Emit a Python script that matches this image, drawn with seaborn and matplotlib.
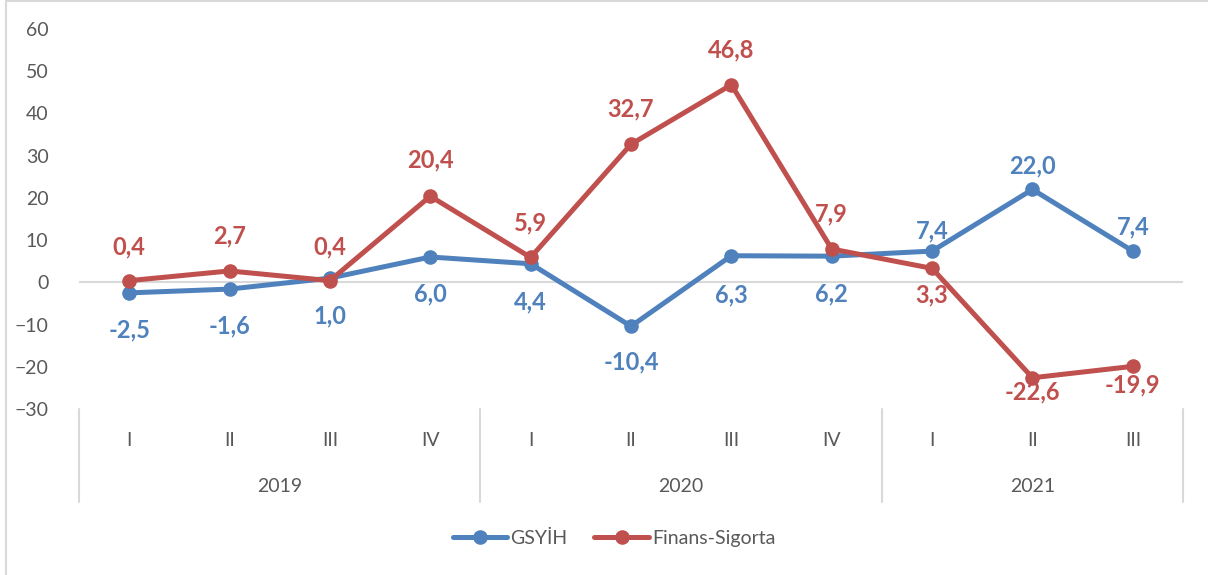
import pandas as pd
import numpy as np
import matplotlib.pyplot as plt
import seaborn as sns
from matplotlib.lines import Line2D
from matplotlib.patches import Rectangle

# data
quarters = ['I', 'II', 'III', 'IV', 'I', 'II', 'III', 'IV', 'I', 'II', 'III']
years = ['2019', '2020', '2021']
year_sizes = [4, 4, 3]
gsyih = [-2.5, -1.6, 1.0, 6.0, 4.4, -10.4, 6.3, 6.2, 7.4, 22.0, 7.4]
finans = [0.4, 2.7, 0.4, 20.4, 5.9, 32.7, 46.8, 7.9, 3.3, -22.6, -19.9]
series_names = ['GSYİH', 'Finans-Sigorta']

blue = '#4F81BD'
red = '#C0504D'
grey_txt = '#595959'
grey_line = '#D9D9D9'

sns.set_style('white')
plt.rcParams['font.family'] = ['Lato', 'DejaVu Sans']

df = pd.DataFrame({
    'idx': list(range(len(quarters))) * 2,
    'value': gsyih + finans,
    'seri': [series_names[0]] * len(gsyih) + [series_names[1]] * len(finans),
})

fig = plt.figure(figsize=(12.08, 5.75), dpi=100)
ax = fig.add_axes([79 / 1208, 1 - 409 / 575, 1104 / 1208, 380 / 575])

ax.axhline(0, color=grey_line, lw=1.5, zorder=1)
sns.lineplot(data=df, x='idx', y='value', hue='seri', hue_order=series_names,
             palette=[blue, red], marker='o', markersize=10.5, markeredgewidth=0,
             linewidth=3.6, legend=False, ax=ax, zorder=3)

# data labels (pixel offsets, negative = below)
blue_dy = [-37, -37, -38, -37, -38, -36, -39, -38, 20, 24, 24]
red_dy = [34, 35, 34, 36, 35, 35, 35, 35, -27, -14, -19]
for vals, dys, col in [(gsyih, blue_dy, blue), (finans, red_dy, red)]:
    for i, (v, dy) in enumerate(zip(vals, dys)):
        ax.annotate(f'{v:.1f}'.replace('.', ','), (i, v), xytext=(0, dy),
                    textcoords='offset pixels', ha='center', va='center',
                    fontsize=17, fontweight='bold', color=col, zorder=5)

ax.set_xlim(-0.5, len(quarters) - 0.5)
ax.set_ylim(-30, 60)
ax.set_yticks(range(-30, 61, 10))
ax.set_xticks([])
ax.set_xlabel('')
ax.set_ylabel('')
ax.tick_params(axis='y', length=0, pad=22, labelsize=14, labelcolor=grey_txt)
for s in ax.spines.values():
    s.set_visible(False)

# multi-level category axis
trans = ax.get_xaxis_transform()
for i, q in enumerate(quarters):
    ax.text(i, -32 / 380, q, transform=trans, ha='center', va='center',
            fontsize=14, color=grey_txt)
start = 0
bounds = [-0.5]
for y, n in zip(years, year_sizes):
    ax.text(start + (n - 1) / 2, -78 / 380, y, transform=trans, ha='center',
            va='center', fontsize=14, color=grey_txt)
    start += n
    bounds.append(start - 0.5)
for b in bounds:
    ax.plot([b, b], [0, -93 / 380], transform=trans, color=grey_line, lw=1.5,
            clip_on=False)

handles = [Line2D([], [], color=c, lw=3.6, marker='o', markersize=10.5,
                  markeredgewidth=0) for c in [blue, red]]
leg = fig.legend(handles, series_names, loc='center', ncol=2,
                 bbox_to_anchor=(614 / 1208, 1 - 538 / 575), frameon=False,
                 fontsize=14, handlelength=2.8, handletextpad=0.15,
                 columnspacing=1.4)
for t in leg.get_texts():
    t.set_color(grey_txt)

fig.add_artist(Rectangle((6 / 1208, -0.1), 1.2, 1.1 - 1.5 / 575,
                         transform=fig.transFigure, fill=False,
                         edgecolor=grey_line, lw=1.5))

fig.savefig('out.png', dpi=100)
